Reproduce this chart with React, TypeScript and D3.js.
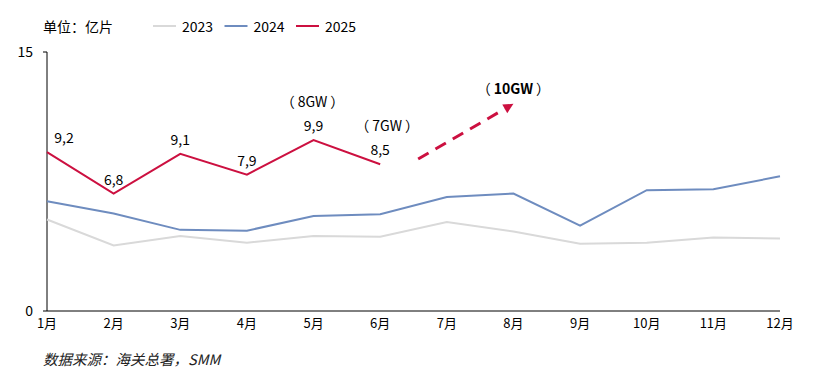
import React from "react";
import * as d3 from "d3";

const months = ["1月","2月","3月","4月","5月","6月","7月","8月","9月","10月","11月","12月"];
const s2023 = [5.3, 3.8, 4.35, 3.95, 4.35, 4.3, 5.15, 4.6, 3.9, 3.95, 4.25, 4.2];
const s2024 = [6.35, 5.65, 4.7, 4.65, 5.5, 5.6, 6.6, 6.8, 4.95, 7.0, 7.05, 7.8];
const s2025 = [9.2, 6.8, 9.1, 7.9, 9.9, 8.5];
const labels2025 = ["9,2", "6,8", "9,1", "7,9", "9,9", "8,5"];
const yTicks = [0, 15];
const gwNotes = [
  { idx: 4, value: 9.9, text: "8GW" },
  { idx: 5, value: 8.5, text: "7GW" },
];
const arrowFrom = [5.57, 8.8];
const arrowTo = [7.0, 12.0];
const arrowNote = "10GW";

const series = [
  { name: "2023", values: s2023, color: "#d9d9d9" },
  { name: "2024", values: s2024, color: "#6e8cbf" },
  { name: "2025", values: s2025, color: "#cc1040" },
];

function Paren({ text }: { text: string }) {
  return (
    <>
      <tspan>（</tspan>
      <tspan dx={3}>{text}</tspan>
      <tspan dx={3}>）</tspan>
    </>
  );
}

export default function App() {
  const W = 825, H = 389;
  const x = d3.scaleLinear().domain([0, 11]).range([47, 780]);
  const y = d3.scaleLinear().domain([0, 15]).range([311, 52]);
  const line = d3.line<number>().x((_, i) => x(i)).y((d) => y(d));
  const font = "'Noto Sans CJK SC', 'Noto Sans', sans-serif";
  const ax = x(arrowFrom[0]), ay = y(arrowFrom[1]);
  const bx = x(arrowTo[0]), by = y(arrowTo[1]);
  const ang = Math.atan2(by - ay, bx - ax);
  const headLen = 10, headW = 5;
  const hx = bx - headLen * Math.cos(ang), hy = by - headLen * Math.sin(ang);
  const px = -Math.sin(ang) * headW, py = Math.cos(ang) * headW;

  return (
    <svg width={W} height={H} style={{ position: "absolute", left: 0, top: 0, background: "#fff" }} fontFamily={font}>
      <text x={43} y={32} fontSize={14} fill="#000">单位：亿片</text>
      {series.map((s, i) => {
        const lx = 153 + i * 71.5;
        return (
          <g key={s.name}>
            <line x1={lx} x2={lx + 23} y1={26} y2={26} stroke={s.color} strokeWidth={2} />
            <text x={lx + 29} y={32} fontSize={14} fill="#000">{s.name}</text>
          </g>
        );
      })}
      <line x1={x(0)} x2={x(0)} y1={y(15)} y2={y(0)} stroke="#000" strokeWidth={1} />
      <line x1={x(0)} x2={x(11)} y1={y(0)} y2={y(0)} stroke="#000" strokeWidth={1} />
      {yTicks.map((t) => (
        <g key={t}>
          <line x1={x(0) - 4} x2={x(0)} y1={y(t)} y2={y(t)} stroke="#000" />
          <text x={33} y={y(t) + 5} fontSize={14} textAnchor="end" fill="#000">{t}</text>
        </g>
      ))}
      {months.map((m, i) => (
        <text key={m} x={x(i)} y={y(0) + 17} fontSize={13} textAnchor="middle" fill="#000">{m}</text>
      ))}
      {series.map((s) => (
        <path key={s.name} d={line(s.values) || ""} fill="none" stroke={s.color} strokeWidth={2} />
      ))}
      {s2025.map((v, i) => (
        <text key={i} x={x(i) + (i === 0 ? 17 : 0)} y={y(v) - 9} fontSize={14} textAnchor="middle" fill="#000">{labels2025[i]}</text>
      ))}
      {gwNotes.map((n) => (
        <text key={n.text} x={x(n.idx) + (n.idx === 5 ? 7 : -1)} y={y(n.value) - 33} fontSize={14} textAnchor="middle" fill="#000"><Paren text={n.text} /></text>
      ))}
      <line x1={ax} y1={ay} x2={hx} y2={hy} stroke="#cc1040" strokeWidth={3} strokeDasharray="12 8" />
      <polygon points={`${bx},${by} ${hx + px},${hy + py} ${hx - px},${hy - py}`} fill="#cc1040" />
      <text x={bx} y={by - 10} fontSize={14} textAnchor="middle" fill="#000">
        <tspan>（</tspan>
        <tspan dx={3} fontWeight="bold">{arrowNote}</tspan>
        <tspan dx={3}>）</tspan>
      </text>
      <text x={43} y={365} fontSize={14.5} fontStyle="italic" fill="#222">数据来源：海关总署，SMM</text>
    </svg>
  );
}
